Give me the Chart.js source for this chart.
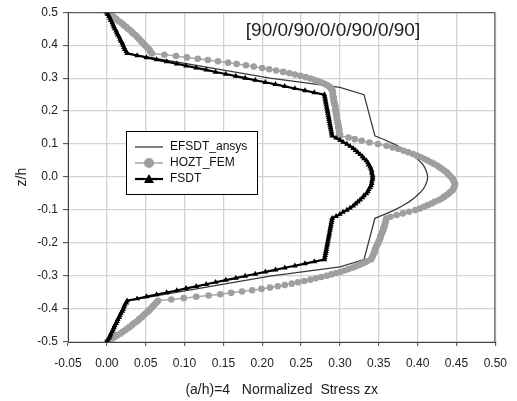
<!DOCTYPE html>
<html>
<head>
<meta charset="utf-8">
<script src="https://cdn.jsdelivr.net/npm/chart.js@4/dist/chart.umd.min.js"></script>
<style>
  body { margin: 0; background: #fff; }
</style>
</head>
<body>
<canvas id="chart" width="517" height="401"></canvas>
<script>
// Normalized transverse shear stress through the thickness, (a/h)=4

const seriesNames = ['EFSDT_ansys', 'HOZT_FEM', 'FSDT'];
const layupLabel = '[90/0/90/0/0/90/0/90]';
const xTitle = '(a/h)=4   Normalized  Stress zx';
const yTitle = 'z/h';

const xTicks = [-0.05, 0, 0.05, 0.1, 0.15, 0.2, 0.25, 0.3, 0.35, 0.4, 0.45, 0.5];
const xTickLabels = ['-0.05', '0.00', '0.05', '0.10', '0.15', '0.20', '0.25', '0.30', '0.35', '0.40', '0.45', '0.50'];
const yTicks = [-0.5, -0.4, -0.3, -0.2, -0.1, 0, 0.1, 0.2, 0.3, 0.4, 0.5];
const yTickLabels = ['-0.5', '-0.4', '-0.3', '-0.2', '-0.1', '0.0', '0.1', '0.2', '0.3', '0.4', '0.5'];

// EFSDT_ansys (plain line)
const efsdtZ = [0.5, 0.375, 0.3, 0.272, 0.25, 0.125, 0.1125, 0.1, 0.0875, 0.075, 0.0625, 0.05, 0.0375, 0.025, 0.0125, 0,
  -0.0125, -0.025, -0.0375, -0.05, -0.0625, -0.075, -0.0875, -0.1, -0.1125, -0.125, -0.25, -0.272, -0.3, -0.375, -0.5];
const efsdtX = [0, 0.026, 0.21, 0.30, 0.331, 0.345, 0.358, 0.370, 0.380, 0.389, 0.396, 0.402, 0.407, 0.410, 0.412, 0.413,
  0.412, 0.410, 0.407, 0.402, 0.396, 0.389, 0.380, 0.370, 0.358, 0.345, 0.331, 0.30, 0.21, 0.026, 0];

// HOZT_FEM (circles)
const hoztZ = [
  0.5, 0.495, 0.49, 0.485, 0.48, 0.475, 0.47, 0.465, 0.46, 0.455, 0.45, 0.445, 0.44, 0.435, 0.43, 0.425, 0.42, 0.415, 0.41, 0.405, 0.4, 0.395, 0.39, 0.385, 0.38, 0.375,
  0.371, 0.367, 0.363, 0.359, 0.355, 0.351, 0.347, 0.343, 0.339, 0.335, 0.331, 0.327, 0.323, 0.319, 0.315, 0.311, 0.307, 0.303, 0.299, 0.295, 0.291, 0.287, 0.283, 0.279, 0.275, 0.271, 0.267, 0.263, 0.259, 0.255,
  0.25, 0.245, 0.24, 0.235, 0.23, 0.225, 0.22, 0.215, 0.21, 0.205, 0.2, 0.195, 0.19, 0.185, 0.18, 0.175, 0.17, 0.165, 0.16, 0.155, 0.15, 0.145, 0.14, 0.135, 0.13, 0.125,
  0.12, 0.115, 0.11, 0.105, 0.1, 0.095, 0.09, 0.085, 0.08, 0.075, 0.07, 0.065, 0.06, 0.055, 0.05, 0.045, 0.04, 0.035, 0.03, 0.025, 0.02, 0.015, 0.01, 0.005, 0,
  -0.005, -0.01, -0.015, -0.02, -0.025, -0.03, -0.035, -0.04, -0.045, -0.05, -0.055, -0.06, -0.065, -0.07, -0.075, -0.08, -0.085, -0.09, -0.095, -0.1, -0.105, -0.11, -0.115, -0.12,
  -0.125, -0.13, -0.135, -0.14, -0.145, -0.15, -0.155, -0.16, -0.165, -0.17, -0.175, -0.18, -0.185, -0.19, -0.195, -0.2, -0.205, -0.21, -0.215, -0.22, -0.225, -0.23, -0.235, -0.24, -0.245, -0.25,
  -0.255, -0.259, -0.263, -0.267, -0.271, -0.275, -0.279, -0.283, -0.287, -0.291, -0.295, -0.299, -0.303, -0.307, -0.311, -0.315, -0.319, -0.323, -0.327, -0.331, -0.335, -0.339, -0.343, -0.347, -0.351, -0.355, -0.359, -0.363, -0.367, -0.371,
  -0.375, -0.38, -0.385, -0.39, -0.395, -0.4, -0.405, -0.41, -0.415, -0.42, -0.425, -0.43, -0.435, -0.44, -0.445, -0.45, -0.455, -0.46, -0.465, -0.47, -0.475, -0.48, -0.485, -0.49, -0.495, -0.5
];
const hoztX = [
  0, 0.003, 0.006, 0.009, 0.012, 0.014, 0.017, 0.020, 0.022, 0.025, 0.027, 0.030, 0.032, 0.034, 0.037, 0.039, 0.041, 0.043, 0.045, 0.047, 0.049, 0.051, 0.053, 0.055, 0.056, 0.058,
  0.074, 0.089, 0.103, 0.117, 0.130, 0.143, 0.156, 0.167, 0.179, 0.189, 0.200, 0.209, 0.218, 0.227, 0.235, 0.242, 0.249, 0.256, 0.262, 0.267, 0.272, 0.276, 0.280, 0.283, 0.286, 0.288, 0.289, 0.290, 0.291, 0.291,
  0.291, 0.291, 0.292, 0.292, 0.292, 0.293, 0.293, 0.294, 0.294, 0.294, 0.295, 0.295, 0.295, 0.296, 0.296, 0.296, 0.297, 0.297, 0.298, 0.298, 0.298, 0.299, 0.299, 0.299, 0.300, 0.300,
  0.311, 0.319, 0.328, 0.338, 0.349, 0.360, 0.368, 0.375, 0.382, 0.388, 0.394, 0.399, 0.404, 0.409, 0.413, 0.417, 0.421, 0.425, 0.428, 0.431, 0.434, 0.437, 0.439, 0.441, 0.443,
  0.445, 0.446, 0.447, 0.448, 0.448, 0.447, 0.446, 0.445, 0.442, 0.440, 0.437, 0.434, 0.431, 0.427, 0.422, 0.418, 0.413, 0.408, 0.403, 0.397, 0.389, 0.381, 0.373, 0.365,
  0.360, 0.359, 0.359, 0.358, 0.358, 0.357, 0.356, 0.356, 0.355, 0.354, 0.353, 0.352, 0.352, 0.351, 0.350, 0.349, 0.348, 0.347, 0.346, 0.345, 0.345, 0.344, 0.343, 0.342, 0.341, 0.340,
  0.335, 0.332, 0.328, 0.324, 0.320, 0.316, 0.311, 0.306, 0.301, 0.295, 0.289, 0.283, 0.276, 0.269, 0.262, 0.254, 0.246, 0.238, 0.229, 0.220, 0.210, 0.199, 0.187, 0.174, 0.160, 0.146, 0.131, 0.115, 0.099, 0.083,
  0.066, 0.064, 0.062, 0.060, 0.058, 0.056, 0.054, 0.052, 0.049, 0.047, 0.045, 0.042, 0.040, 0.037, 0.034, 0.032, 0.029, 0.026, 0.023, 0.020, 0.017, 0.013, 0.010, 0.007, 0.003, 0
];

// FSDT (triangles)
const fsdtZ = [
  0.5, 0.49375, 0.4875, 0.48125, 0.475, 0.46875, 0.4625, 0.45625, 0.45, 0.44375, 0.4375, 0.43125, 0.425, 0.41875, 0.4125, 0.40625, 0.4, 0.39375, 0.3875, 0.38125,
  0.375, 0.36875, 0.3625, 0.35625, 0.35, 0.34375, 0.3375, 0.33125, 0.325, 0.31875, 0.3125, 0.30625, 0.3, 0.29375, 0.2875, 0.28125, 0.275, 0.26875, 0.2625, 0.25625,
  0.25, 0.24375, 0.2375, 0.23125, 0.225, 0.21875, 0.2125, 0.20625, 0.2, 0.19375, 0.1875, 0.18125, 0.175, 0.16875, 0.1625, 0.15625, 0.15, 0.14375, 0.1375, 0.13125,
  0.125, 0.11875, 0.1125, 0.10625, 0.1, 0.09375, 0.0875, 0.08125, 0.075, 0.06875, 0.0625, 0.05625, 0.05, 0.04375, 0.0375, 0.03125, 0.025, 0.01875, 0.0125, 0.00625,
  0,
  -0.00625, -0.0125, -0.01875, -0.025, -0.03125, -0.0375, -0.04375, -0.05, -0.05625, -0.0625, -0.06875, -0.075, -0.08125, -0.0875, -0.09375, -0.1, -0.10625, -0.1125, -0.11875, -0.125,
  -0.13125, -0.1375, -0.14375, -0.15, -0.15625, -0.1625, -0.16875, -0.175, -0.18125, -0.1875, -0.19375, -0.2, -0.20625, -0.2125, -0.21875, -0.225, -0.23125, -0.2375, -0.24375, -0.25,
  -0.25625, -0.2625, -0.26875, -0.275, -0.28125, -0.2875, -0.29375, -0.3, -0.30625, -0.3125, -0.31875, -0.325, -0.33125, -0.3375, -0.34375, -0.35, -0.35625, -0.3625, -0.36875, -0.375,
  -0.38125, -0.3875, -0.39375, -0.4, -0.40625, -0.4125, -0.41875, -0.425, -0.43125, -0.4375, -0.44375, -0.45, -0.45625, -0.4625, -0.46875, -0.475, -0.48125, -0.4875, -0.49375, -0.5
];
const fsdtX = [
  0, 0.001, 0.003, 0.004, 0.005, 0.007, 0.008, 0.009, 0.010, 0.012, 0.013, 0.014, 0.016, 0.017, 0.018, 0.020, 0.021, 0.022, 0.023, 0.025,
  0.026, 0.039, 0.051, 0.064, 0.077, 0.090, 0.102, 0.115, 0.128, 0.140, 0.153, 0.166, 0.178, 0.191, 0.204, 0.217, 0.229, 0.242, 0.255, 0.267,
  0.280, 0.2805, 0.281, 0.2815, 0.282, 0.2825, 0.283, 0.2835, 0.284, 0.2845, 0.285, 0.2855, 0.286, 0.2865, 0.287, 0.2875, 0.288, 0.2885, 0.289, 0.2895,
  0.290, 0.295, 0.300, 0.304, 0.309, 0.313, 0.317, 0.320, 0.323, 0.326, 0.329, 0.331, 0.334, 0.336, 0.337, 0.339, 0.340, 0.341, 0.341, 0.342,
  0.342,
  0.342, 0.341, 0.341, 0.340, 0.339, 0.337, 0.336, 0.334, 0.331, 0.329, 0.326, 0.323, 0.320, 0.317, 0.313, 0.309, 0.304, 0.300, 0.295, 0.290,
  0.2895, 0.289, 0.2885, 0.288, 0.2875, 0.287, 0.2865, 0.286, 0.2855, 0.285, 0.2845, 0.284, 0.2835, 0.283, 0.2825, 0.282, 0.2815, 0.281, 0.2805, 0.280,
  0.267, 0.255, 0.242, 0.229, 0.217, 0.204, 0.191, 0.178, 0.166, 0.153, 0.140, 0.128, 0.115, 0.102, 0.090, 0.077, 0.064, 0.051, 0.039, 0.026,
  0.025, 0.023, 0.022, 0.021, 0.020, 0.018, 0.017, 0.016, 0.014, 0.013, 0.012, 0.010, 0.009, 0.008, 0.007, 0.005, 0.004, 0.003, 0.001, 0
];

function pairs(xs, zs) {
  return zs.map((z, i) => ({ x: xs[i], y: z }));
}

Chart.defaults.font.family = '"Liberation Sans", Arial, sans-serif';
Chart.defaults.color = '#222';

// legend box inside the plot + layup label + top/right frame
const overlay = {
  id: 'overlay',
  afterDraw(chart) {
    const ctx = chart.ctx;
    const a = chart.chartArea;
    ctx.save();

    ctx.strokeStyle = '#444';
    ctx.lineWidth = 1;
    ctx.beginPath();
    ctx.moveTo(a.left, a.top + 0.5);
    ctx.lineTo(a.right - 0.5, a.top + 0.5);
    ctx.lineTo(a.right - 0.5, a.bottom);
    ctx.stroke();

    ctx.fillStyle = '#222';
    ctx.font = '19px "Liberation Sans", Arial, sans-serif';
    ctx.textAlign = 'center';
    ctx.textBaseline = 'middle';
    ctx.fillText(layupLabel, 333, 31);

    // legend
    const bx = 126.5, by = 131.5, bw = 131, bh = 63;
    ctx.fillStyle = '#fff';
    ctx.fillRect(bx, by, bw, bh);
    ctx.strokeStyle = '#000';
    ctx.strokeRect(bx, by, bw, bh);

    const rows = [147, 163, 179];
    ctx.font = '12px "Liberation Sans", Arial, sans-serif';
    ctx.textAlign = 'left';
    chart.data.datasets.forEach((ds, i) => {
      const y = rows[i];
      ctx.strokeStyle = ds.borderColor;
      ctx.lineWidth = ds.borderWidth;
      ctx.beginPath();
      ctx.moveTo(135, y);
      ctx.lineTo(163, y);
      ctx.stroke();
      ctx.fillStyle = ds.pointBackgroundColor || ds.borderColor;
      if (ds.pointStyle === 'circle') {
        ctx.beginPath();
        ctx.arc(149, y, 5, 0, Math.PI * 2);
        ctx.fill();
      } else if (ds.pointStyle === 'triangle') {
        ctx.beginPath();
        ctx.moveTo(149, y - 5);
        ctx.lineTo(154, y + 4);
        ctx.lineTo(144, y + 4);
        ctx.closePath();
        ctx.fill();
      }
      ctx.fillStyle = '#111';
      ctx.fillText(ds.label, 170, y);
    });
    ctx.restore();
  }
};

new Chart(document.getElementById('chart'), {
  type: 'scatter',
  data: {
    datasets: [
      {
        label: seriesNames[0],
        data: pairs(efsdtX, efsdtZ),
        showLine: true,
        borderColor: '#3a3a3a',
        borderWidth: 1.3,
        pointRadius: 0,
        order: 2
      },
      {
        label: seriesNames[1],
        data: pairs(hoztX, hoztZ),
        showLine: true,
        borderColor: '#a8a8a8',
        borderWidth: 1.5,
        pointStyle: 'circle',
        pointRadius: 3.3,
        pointBackgroundColor: '#9f9f9f',
        pointBorderColor: '#9f9f9f',
        pointBorderWidth: 0,
        order: 1
      },
      {
        label: seriesNames[2],
        data: pairs(fsdtX, fsdtZ),
        showLine: true,
        borderColor: '#000',
        borderWidth: 2.2,
        pointStyle: 'triangle',
        pointRadius: 3.3,
        pointBackgroundColor: '#000',
        pointBorderColor: '#000',
        pointBorderWidth: 0,
        order: 0
      }
    ]
  },
  options: {
    responsive: false,
    animation: false,
    layout: { padding: { top: 12, right: 17, bottom: 0, left: 0 } },
    plugins: {
      legend: { display: false },
      tooltip: { enabled: false }
    },
    scales: {
      x: {
        type: 'linear',
        min: -0.05,
        max: 0.5,
        afterBuildTicks: s => { s.ticks = xTicks.map(v => ({ value: v })); },
        afterFit: s => { s.height = 59; },
        ticks: {
          callback: (v, i) => xTickLabels[i],
          color: '#222',
          font: { size: 12 },
          padding: 10,
          maxRotation: 0,
          autoSkip: false
        },
        grid: { color: '#d2d2d2', lineWidth: 1.3, tickColor: '#444', tickWidth: 1, tickLength: 4 },
        border: { color: '#444', width: 1 },
        title: {
          display: true,
          text: xTitle,
          color: '#222',
          font: { size: 14 },
          padding: { top: 0, bottom: 2 }
        }
      },
      y: {
        type: 'linear',
        min: -0.5,
        max: 0.5,
        afterBuildTicks: s => { s.ticks = yTicks.map(v => ({ value: v })); },
        afterFit: s => { s.width = 68; },
        ticks: {
          callback: (v, i) => yTickLabels[i],
          color: '#222',
          font: { size: 12 },
          padding: 5,
          autoSkip: false
        },
        grid: { color: '#d2d2d2', lineWidth: 1.3, tickColor: '#444', tickWidth: 1, tickLength: 5 },
        border: { color: '#444', width: 1 },
        title: {
          display: true,
          text: yTitle,
          color: '#222',
          font: { size: 14 },
          padding: { top: 14, bottom: 0 }
        }
      }
    }
  },
  plugins: [overlay]
});
</script>
</body>
</html>
